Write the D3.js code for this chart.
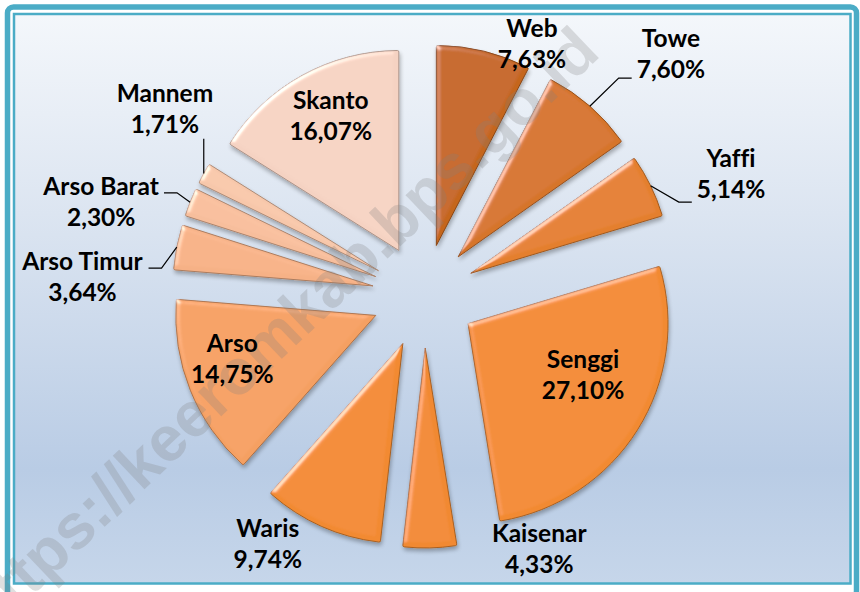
<!DOCTYPE html>
<html><head><meta charset="utf-8">
<script src="https://cdn.jsdelivr.net/npm/d3@7/dist/d3.min.js"></script>
<style>html,body{margin:0;padding:0;background:#fff;overflow:hidden} text{font-variant-ligatures:none}</style>
</head><body>
<svg id="chart" width="860" height="592"></svg>
<script>
// ---- data ----
const categories = ["Web","Towe","Yaffi","Senggi","Kaisenar","Waris","Arso","Arso Timur","Arso Barat","Mannem","Skanto"];
const values = [7.63,7.60,5.14,27.10,4.33,9.74,14.75,3.64,2.30,1.71,16.07];
const palette = ["#C5661E","#D6742A","#E47F2D","#F28A30","#F18930","#F28A30","#F5A062","#F6B186","#F7BE9C","#F7C7AA","#F5D2C2"];
// label placement (polar, degrees clockwise from 12 o'clock, distance from pie centre)
const labelAngle = [23.3,45.7,68.5,116.7,155.6,212.1,251.6,273.0,286.1,305.7,332.5];
const labelDist  = [273,345,330,178,279,294,202,342,336,319,202];
// leader lines: null = none, number = vertical offset of the leader end from label centre, "v" = vertical leader
const leaderDy = [null,23,27,null,null,null,null,-10,-10,"v",null];
const watermark = "https://keeromkab.bps.go.id";

const W = 860, H = 592;
const cx = 424, cy = 296, R = 200, explode = 52;
const svg = d3.select("#chart");
const defs = svg.append("defs");

const bg = defs.append("linearGradient").attr("id","bg").attr("x1",0).attr("y1",0).attr("x2",0).attr("y2",1);
bg.append("stop").attr("offset","0%").attr("stop-color","#F4F7FB");
bg.append("stop").attr("offset","35%").attr("stop-color","#DCE5F1");
bg.append("stop").attr("offset","80%").attr("stop-color","#B9CCE5");
bg.append("stop").attr("offset","100%").attr("stop-color","#C6D6EA");

const f = defs.append("filter").attr("id","bevel").attr("x","-10%").attr("y","-10%").attr("width","130%").attr("height","130%");
f.append("feGaussianBlur").attr("in","SourceAlpha").attr("stdDeviation",2.5).attr("result","blur");
const sl = f.append("feSpecularLighting").attr("in","blur").attr("surfaceScale",3)
  .attr("specularConstant",0.8).attr("specularExponent",18).attr("lighting-color","#ffffff").attr("result","spec");
sl.append("feDistantLight").attr("azimuth",225).attr("elevation",22);
f.append("feComposite").attr("in","spec").attr("in2","SourceAlpha").attr("operator","in").attr("result","specOut");
f.append("feComposite").attr("in","SourceGraphic").attr("in2","specOut").attr("operator","arithmetic")
  .attr("k1",0).attr("k2",1).attr("k3",0.6).attr("k4",0).attr("result","lit");
f.append("feGaussianBlur").attr("in","SourceAlpha").attr("stdDeviation",2).attr("result","sb");
f.append("feOffset").attr("in","sb").attr("dx",1).attr("dy",3).attr("result","so");
f.append("feComponentTransfer").attr("in","so").attr("result","sh")
  .append("feFuncA").attr("type","linear").attr("slope",0.3);
const m = f.append("feMerge");
m.append("feMergeNode").attr("in","sh");
m.append("feMergeNode").attr("in","lit");

// frame
svg.append("rect").attr("x",7.5).attr("y",7).attr("width",849).attr("height",590)
  .attr("rx",6).attr("fill","#ffffff").attr("stroke","#4BACC6").attr("stroke-width",5.5);
svg.append("rect").attr("x",14).attr("y",14).attr("width",836.5).attr("height",569.5)
  .attr("fill","url(#bg)").attr("stroke","#4BACC6").attr("stroke-width",2.5);

// pie
const pie = d3.pie().sort(null).value(d => d)(values);
const arc = d3.arc().innerRadius(0).outerRadius(R).cornerRadius(1.5);
const mid = d => (d.startAngle + d.endAngle) / 2;

const g = svg.append("g").attr("transform",`translate(${cx},${cy})`);
g.selectAll("path.slice").data(pie).join("path")
  .attr("class","slice")
  .attr("d", arc)
  .attr("transform", d => `translate(${explode*Math.sin(mid(d))},${-explode*Math.cos(mid(d))})`)
  .attr("fill", (d,i) => palette[i])
  .attr("stroke", (d,i) => d3.color(palette[i]).darker(1))
  .attr("stroke-width", 1)
  .attr("filter","url(#bevel)");

// watermark
svg.append("text")
  .attr("transform","translate(602,55) rotate(-43.5)")
  .attr("text-anchor","end")
  .attr("font-family","'Liberation Sans', Arial, sans-serif")
  .attr("font-weight","bold")
  .attr("font-size",63.5)
  .attr("fill","#808080").attr("fill-opacity",0.25)
  .text(watermark);

// labels
const fmt = v => d3.format(".2f")(v).replace(".", ",") + "%";
const rad = a => a * Math.PI / 180;
const labels = svg.append("g")
  .attr("font-family","Lato, 'Open Sans', sans-serif")
  .attr("font-weight","bold").attr("font-size",24.5).attr("fill","#000");

pie.forEach((d,i) => {
  const lx = cx + labelDist[i]*Math.sin(rad(labelAngle[i]));
  const ly = cy - labelDist[i]*Math.cos(rad(labelAngle[i]));
  const t = labels.append("text").attr("text-anchor","middle");
  t.append("tspan").attr("x",lx).attr("y",ly-8).text(categories[i]);
  t.append("tspan").attr("x",lx).attr("y",ly+23).text(fmt(values[i]));
  if (leaderDy[i] === null) return;
  const a = mid(d);
  const sx = cx + (explode+R)*Math.sin(a), sy = cy - (explode+R)*Math.cos(a);
  const bb = t.node().getBBox();
  let pts;
  if (leaderDy[i] === "v") {
    pts = [[sx,sy],[sx,bb.y+bb.height+1]];
  } else {
    const ey = ly + leaderDy[i];
    if (lx > sx) { const ex = bb.x - 5; pts = [[sx,sy],[ex-13,ey],[ex,ey]]; }
    else { const ex = bb.x + bb.width + 5; pts = [[sx,sy],[ex+13,ey],[ex,ey]]; }
  }
  svg.append("path").attr("d", d3.line()(pts)).attr("fill","none").attr("stroke","#000").attr("stroke-width",1.2);
});
</script>
</body></html>
